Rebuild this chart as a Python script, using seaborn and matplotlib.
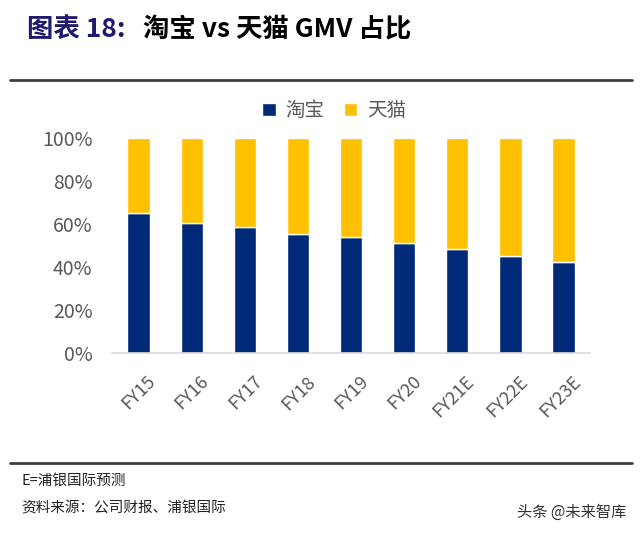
import matplotlib
matplotlib.use("Agg")
import matplotlib.pyplot as plt
import matplotlib.transforms as mtransforms
import seaborn as sns
import pandas as pd
from matplotlib.patches import Patch
from matplotlib.lines import Line2D
from matplotlib.ticker import PercentFormatter

# ===== data =====
years = ['FY15', 'FY16', 'FY17', 'FY18', 'FY19', 'FY20', 'FY21E', 'FY22E', 'FY23E']
taobao = [0.65, 0.605, 0.584, 0.556, 0.542, 0.511, 0.483, 0.450, 0.425]
tmall = [0.35, 0.395, 0.416, 0.444, 0.458, 0.489, 0.517, 0.550, 0.575]

NAVY = '#002A78'
YELLOW = '#FFC000'
GRAY = '#595959'

sns.set_theme(style="white")
plt.rcParams['font.family'] = ['Noto Sans CJK SC', 'DejaVu Sans']

df = pd.DataFrame({'year': years, 'taobao': taobao, 'tmall': tmall})

fig = plt.figure(figsize=(6.4, 5.35), dpi=100)
ax = fig.add_axes([0.175, 0.340, 0.747, 0.402])

sns.barplot(data=df, x='year', y='taobao', color=NAVY, width=0.42,
            saturation=1, ax=ax)
sns.barplot(data=df, x='year', y='tmall', bottom=df['taobao'], color=YELLOW,
            width=0.42, saturation=1, ax=ax)

ax.set_ylim(0, 1)
ax.set_yticks([0, 0.2, 0.4, 0.6, 0.8, 1.0])
ax.yaxis.set_major_formatter(PercentFormatter(1.0, decimals=0))
ax.set_xlabel('')
ax.set_ylabel('')
for s in ['top', 'right', 'left']:
    ax.spines[s].set_visible(False)
ax.spines['bottom'].set_color('#D9D9D9')
ax.spines['bottom'].set_linewidth(1.2)
ax.tick_params(axis='y', labelsize=14, colors=GRAY, length=0, pad=14)
ax.tick_params(axis='x', labelsize=13, colors=GRAY, length=0, pad=14)
shift = mtransforms.ScaledTranslation(8 / 100, 0, fig.dpi_scale_trans)
for lab in ax.get_xticklabels():
    lab.set_rotation(45)
    lab.set_ha('right')
    lab.set_va('top')
    lab.set_rotation_mode('anchor')
    lab.set_transform(lab.get_transform() + shift)

# legend
handles = [Patch(facecolor=NAVY, label='淘宝'), Patch(facecolor=YELLOW, label='天猫')]
leg = fig.legend(handles=handles, loc='center', bbox_to_anchor=(0.522, 0.793), ncol=2,
                 frameon=False, fontsize=14, handlelength=0.7, handleheight=0.7,
                 handletextpad=0.5, columnspacing=1.0)
for t in leg.get_texts():
    t.set_color(GRAY)

# title
t1 = fig.text(0.042, 0.945, '图表 18:', fontsize=19, fontweight='bold', color='#1F1A6E',
              va='center', ha='left')
fig.canvas.draw()
bb = t1.get_window_extent()
x2 = (bb.x1 + 18) / fig.bbox.width
fig.text(x2, 0.945, '淘宝 vs 天猫 GMV 占比', fontsize=19, fontweight='bold',
         color='black', va='center', ha='left')

# separator lines
fig.add_artist(Line2D([0.016, 0.988], [0.850, 0.850], color='#404040', lw=2))
fig.add_artist(Line2D([0.016, 0.988], [0.135, 0.135], color='#404040', lw=2))

# footnotes
fig.text(0.033, 0.101, 'E=浦银国际预测', fontsize=10.5, color='#222222', va='center')
fig.text(0.033, 0.050, '资料来源：公司财报、浦银国际', fontsize=10.5, color='#222222', va='center')
fig.text(0.978, 0.043, '头条 @未来智库', fontsize=11, color='#333333', va='center', ha='right')

fig.savefig('out.png', dpi=100)
